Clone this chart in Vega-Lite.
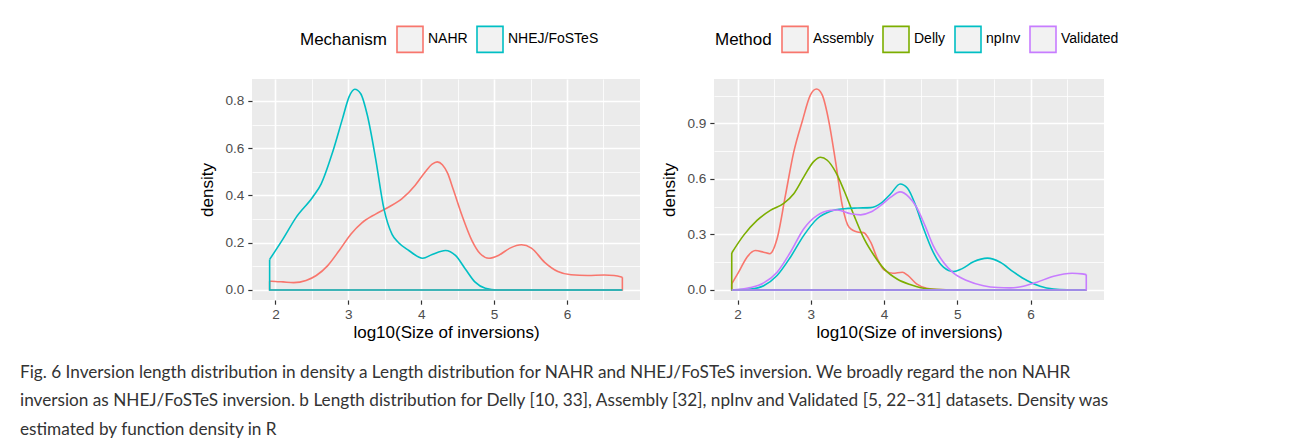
{
  "$schema": "https://vega.github.io/schema/vega-lite/v6.json",
  "padding": {"left": 20, "top": 25, "right": 5, "bottom": 5},
  "background": "white",
  "title": {
    "text": [
      "Fig. 6 Inversion length distribution in density a Length distribution for NAHR and NHEJ/FoSTeS inversion. We broadly regard the non NAHR",
      "inversion as NHEJ/FoSTeS inversion. b Length distribution for Delly [10, 33], Assembly [32], npInv and Validated [5, 22–31] datasets. Density was",
      "estimated by function density in R"
    ],
    "orient": "bottom", "anchor": "start", "frame": "group",
    "font": "Lato", "fontSize": 17.2, "fontWeight": "normal",
    "color": "#333333", "lineHeight": 28.5, "offset": 23, "dx": -232, "baseline": "top"
  },
  "datasets": {
    "a": [
      {"g": "NAHR", "p": "c", "i": 1, "x": 1.92, "y": 0.037},
      {"g": "NAHR", "p": "c", "i": 2, "x": 2.0, "y": 0.036},
      {"g": "NAHR", "p": "c", "i": 3, "x": 2.104, "y": 0.034},
      {"g": "NAHR", "p": "c", "i": 4, "x": 2.25, "y": 0.031},
      {"g": "NAHR", "p": "c", "i": 5, "x": 2.42, "y": 0.04},
      {"g": "NAHR", "p": "c", "i": 6, "x": 2.56, "y": 0.061},
      {"g": "NAHR", "p": "c", "i": 7, "x": 2.717, "y": 0.103},
      {"g": "NAHR", "p": "c", "i": 8, "x": 2.875, "y": 0.167},
      {"g": "NAHR", "p": "c", "i": 9, "x": 3.034, "y": 0.236},
      {"g": "NAHR", "p": "c", "i": 10, "x": 3.19, "y": 0.285},
      {"g": "NAHR", "p": "c", "i": 11, "x": 3.374, "y": 0.321},
      {"g": "NAHR", "p": "c", "i": 12, "x": 3.556, "y": 0.351},
      {"g": "NAHR", "p": "c", "i": 13, "x": 3.737, "y": 0.386},
      {"g": "NAHR", "p": "c", "i": 14, "x": 3.918, "y": 0.443},
      {"g": "NAHR", "p": "c", "i": 15, "x": 4.054, "y": 0.499},
      {"g": "NAHR", "p": "c", "i": 16, "x": 4.15, "y": 0.532},
      {"g": "NAHR", "p": "c", "i": 17, "x": 4.22, "y": 0.542},
      {"g": "NAHR", "p": "c", "i": 18, "x": 4.29, "y": 0.53},
      {"g": "NAHR", "p": "c", "i": 19, "x": 4.36, "y": 0.495},
      {"g": "NAHR", "p": "c", "i": 20, "x": 4.44, "y": 0.425},
      {"g": "NAHR", "p": "c", "i": 21, "x": 4.56, "y": 0.315},
      {"g": "NAHR", "p": "c", "i": 22, "x": 4.696, "y": 0.209},
      {"g": "NAHR", "p": "c", "i": 23, "x": 4.81, "y": 0.153},
      {"g": "NAHR", "p": "c", "i": 24, "x": 4.93, "y": 0.134},
      {"g": "NAHR", "p": "c", "i": 25, "x": 5.059, "y": 0.146},
      {"g": "NAHR", "p": "c", "i": 26, "x": 5.218, "y": 0.177},
      {"g": "NAHR", "p": "c", "i": 27, "x": 5.376, "y": 0.191},
      {"g": "NAHR", "p": "c", "i": 28, "x": 5.512, "y": 0.177},
      {"g": "NAHR", "p": "c", "i": 29, "x": 5.694, "y": 0.117},
      {"g": "NAHR", "p": "c", "i": 30, "x": 5.875, "y": 0.078},
      {"g": "NAHR", "p": "c", "i": 31, "x": 6.056, "y": 0.064},
      {"g": "NAHR", "p": "c", "i": 32, "x": 6.283, "y": 0.061},
      {"g": "NAHR", "p": "c", "i": 33, "x": 6.51, "y": 0.063},
      {"g": "NAHR", "p": "c", "i": 34, "x": 6.646, "y": 0.061},
      {"g": "NAHR", "p": "c", "i": 35, "x": 6.76, "y": 0.054},
      {"g": "NAHR", "p": "e", "i": 1, "x": 1.92, "y": 0.037},
      {"g": "NAHR", "p": "e", "i": 2, "x": 1.92, "y": 0},
      {"g": "NAHR", "p": "e", "i": 3, "x": 6.76, "y": 0},
      {"g": "NAHR", "p": "e", "i": 4, "x": 6.76, "y": 0.054},
      {"g": "NHEJ/FoSTeS", "p": "c", "i": 1, "x": 1.92, "y": 0.129},
      {"g": "NHEJ/FoSTeS", "p": "c", "i": 2, "x": 2.104, "y": 0.216},
      {"g": "NHEJ/FoSTeS", "p": "c", "i": 3, "x": 2.286, "y": 0.308},
      {"g": "NHEJ/FoSTeS", "p": "c", "i": 4, "x": 2.512, "y": 0.393},
      {"g": "NHEJ/FoSTeS", "p": "c", "i": 5, "x": 2.626, "y": 0.448},
      {"g": "NHEJ/FoSTeS", "p": "c", "i": 6, "x": 2.785, "y": 0.584},
      {"g": "NHEJ/FoSTeS", "p": "c", "i": 7, "x": 2.921, "y": 0.726},
      {"g": "NHEJ/FoSTeS", "p": "c", "i": 8, "x": 3.011, "y": 0.818},
      {"g": "NHEJ/FoSTeS", "p": "c", "i": 9, "x": 3.088, "y": 0.849},
      {"g": "NHEJ/FoSTeS", "p": "c", "i": 10, "x": 3.17, "y": 0.83},
      {"g": "NHEJ/FoSTeS", "p": "c", "i": 11, "x": 3.26, "y": 0.74},
      {"g": "NHEJ/FoSTeS", "p": "c", "i": 12, "x": 3.374, "y": 0.556},
      {"g": "NHEJ/FoSTeS", "p": "c", "i": 13, "x": 3.488, "y": 0.344},
      {"g": "NHEJ/FoSTeS", "p": "c", "i": 14, "x": 3.6, "y": 0.235},
      {"g": "NHEJ/FoSTeS", "p": "c", "i": 15, "x": 3.69, "y": 0.2},
      {"g": "NHEJ/FoSTeS", "p": "c", "i": 16, "x": 3.83, "y": 0.167},
      {"g": "NHEJ/FoSTeS", "p": "c", "i": 17, "x": 4.02, "y": 0.134},
      {"g": "NHEJ/FoSTeS", "p": "c", "i": 18, "x": 4.15, "y": 0.15},
      {"g": "NHEJ/FoSTeS", "p": "c", "i": 19, "x": 4.333, "y": 0.167},
      {"g": "NHEJ/FoSTeS", "p": "c", "i": 20, "x": 4.47, "y": 0.146},
      {"g": "NHEJ/FoSTeS", "p": "c", "i": 21, "x": 4.605, "y": 0.089},
      {"g": "NHEJ/FoSTeS", "p": "c", "i": 22, "x": 4.74, "y": 0.033},
      {"g": "NHEJ/FoSTeS", "p": "c", "i": 23, "x": 4.88, "y": 0.007},
      {"g": "NHEJ/FoSTeS", "p": "c", "i": 24, "x": 5.05, "y": 0.0},
      {"g": "NHEJ/FoSTeS", "p": "c", "i": 25, "x": 6.76, "y": 0.0},
      {"g": "NHEJ/FoSTeS", "p": "e", "i": 1, "x": 1.92, "y": 0.129},
      {"g": "NHEJ/FoSTeS", "p": "e", "i": 2, "x": 1.92, "y": 0},
      {"g": "NHEJ/FoSTeS", "p": "e", "i": 3, "x": 6.76, "y": 0}
    ],
    "b": [
      {"g": "Assembly", "p": "c", "i": 1, "x": 1.92, "y": 0.033},
      {"g": "Assembly", "p": "c", "i": 2, "x": 2.014, "y": 0.096},
      {"g": "Assembly", "p": "c", "i": 3, "x": 2.128, "y": 0.177},
      {"g": "Assembly", "p": "c", "i": 4, "x": 2.242, "y": 0.213},
      {"g": "Assembly", "p": "c", "i": 5, "x": 2.356, "y": 0.204},
      {"g": "Assembly", "p": "c", "i": 6, "x": 2.44, "y": 0.196},
      {"g": "Assembly", "p": "c", "i": 7, "x": 2.539, "y": 0.277},
      {"g": "Assembly", "p": "c", "i": 8, "x": 2.653, "y": 0.511},
      {"g": "Assembly", "p": "c", "i": 9, "x": 2.767, "y": 0.746},
      {"g": "Assembly", "p": "c", "i": 10, "x": 2.881, "y": 0.909},
      {"g": "Assembly", "p": "c", "i": 11, "x": 2.995, "y": 1.054},
      {"g": "Assembly", "p": "c", "i": 12, "x": 3.078, "y": 1.086},
      {"g": "Assembly", "p": "c", "i": 13, "x": 3.155, "y": 1.054},
      {"g": "Assembly", "p": "c", "i": 14, "x": 3.247, "y": 0.909},
      {"g": "Assembly", "p": "c", "i": 15, "x": 3.338, "y": 0.692},
      {"g": "Assembly", "p": "c", "i": 16, "x": 3.429, "y": 0.457},
      {"g": "Assembly", "p": "c", "i": 17, "x": 3.52, "y": 0.34},
      {"g": "Assembly", "p": "c", "i": 18, "x": 3.635, "y": 0.313},
      {"g": "Assembly", "p": "c", "i": 19, "x": 3.72, "y": 0.31},
      {"g": "Assembly", "p": "c", "i": 20, "x": 3.817, "y": 0.258},
      {"g": "Assembly", "p": "c", "i": 21, "x": 3.909, "y": 0.168},
      {"g": "Assembly", "p": "c", "i": 22, "x": 4.0, "y": 0.108},
      {"g": "Assembly", "p": "c", "i": 23, "x": 4.12, "y": 0.09},
      {"g": "Assembly", "p": "c", "i": 24, "x": 4.25, "y": 0.096},
      {"g": "Assembly", "p": "c", "i": 25, "x": 4.32, "y": 0.08},
      {"g": "Assembly", "p": "c", "i": 26, "x": 4.443, "y": 0.033},
      {"g": "Assembly", "p": "c", "i": 27, "x": 4.58, "y": 0.009},
      {"g": "Assembly", "p": "c", "i": 28, "x": 4.717, "y": 0.002},
      {"g": "Assembly", "p": "c", "i": 29, "x": 5.0, "y": 0},
      {"g": "Assembly", "p": "c", "i": 30, "x": 6.76, "y": 0},
      {"g": "Assembly", "p": "e", "i": 1, "x": 1.92, "y": 0.033},
      {"g": "Assembly", "p": "e", "i": 2, "x": 1.92, "y": 0},
      {"g": "Assembly", "p": "e", "i": 3, "x": 6.76, "y": 0},
      {"g": "Delly", "p": "c", "i": 1, "x": 1.92, "y": 0.2},
      {"g": "Delly", "p": "c", "i": 2, "x": 2.082, "y": 0.295},
      {"g": "Delly", "p": "c", "i": 3, "x": 2.265, "y": 0.376},
      {"g": "Delly", "p": "c", "i": 4, "x": 2.447, "y": 0.43},
      {"g": "Delly", "p": "c", "i": 5, "x": 2.63, "y": 0.468},
      {"g": "Delly", "p": "c", "i": 6, "x": 2.767, "y": 0.52},
      {"g": "Delly", "p": "c", "i": 7, "x": 2.904, "y": 0.611},
      {"g": "Delly", "p": "c", "i": 8, "x": 3.041, "y": 0.695},
      {"g": "Delly", "p": "c", "i": 9, "x": 3.132, "y": 0.717},
      {"g": "Delly", "p": "c", "i": 10, "x": 3.224, "y": 0.701},
      {"g": "Delly", "p": "c", "i": 11, "x": 3.338, "y": 0.638},
      {"g": "Delly", "p": "c", "i": 12, "x": 3.452, "y": 0.539},
      {"g": "Delly", "p": "c", "i": 13, "x": 3.589, "y": 0.403},
      {"g": "Delly", "p": "c", "i": 14, "x": 3.726, "y": 0.277},
      {"g": "Delly", "p": "c", "i": 15, "x": 3.863, "y": 0.186},
      {"g": "Delly", "p": "c", "i": 16, "x": 4.0, "y": 0.114},
      {"g": "Delly", "p": "c", "i": 17, "x": 4.183, "y": 0.058},
      {"g": "Delly", "p": "c", "i": 18, "x": 4.365, "y": 0.028},
      {"g": "Delly", "p": "c", "i": 19, "x": 4.5, "y": 0.012},
      {"g": "Delly", "p": "c", "i": 20, "x": 4.67, "y": 0.003},
      {"g": "Delly", "p": "c", "i": 21, "x": 5.0, "y": 0},
      {"g": "Delly", "p": "c", "i": 22, "x": 6.76, "y": 0},
      {"g": "Delly", "p": "e", "i": 1, "x": 1.92, "y": 0.2},
      {"g": "Delly", "p": "e", "i": 2, "x": 1.92, "y": 0},
      {"g": "Delly", "p": "e", "i": 3, "x": 6.76, "y": 0},
      {"g": "npInv", "p": "c", "i": 1, "x": 1.92, "y": 0.0},
      {"g": "npInv", "p": "c", "i": 2, "x": 2.174, "y": 0.005},
      {"g": "npInv", "p": "c", "i": 3, "x": 2.356, "y": 0.023},
      {"g": "npInv", "p": "c", "i": 4, "x": 2.539, "y": 0.078},
      {"g": "npInv", "p": "c", "i": 5, "x": 2.721, "y": 0.177},
      {"g": "npInv", "p": "c", "i": 6, "x": 2.904, "y": 0.295},
      {"g": "npInv", "p": "c", "i": 7, "x": 3.087, "y": 0.385},
      {"g": "npInv", "p": "c", "i": 8, "x": 3.269, "y": 0.425},
      {"g": "npInv", "p": "c", "i": 9, "x": 3.452, "y": 0.439},
      {"g": "npInv", "p": "c", "i": 10, "x": 3.635, "y": 0.443},
      {"g": "npInv", "p": "c", "i": 11, "x": 3.817, "y": 0.445},
      {"g": "npInv", "p": "c", "i": 12, "x": 3.954, "y": 0.468},
      {"g": "npInv", "p": "c", "i": 13, "x": 4.091, "y": 0.52},
      {"g": "npInv", "p": "c", "i": 14, "x": 4.219, "y": 0.573},
      {"g": "npInv", "p": "c", "i": 15, "x": 4.32, "y": 0.55},
      {"g": "npInv", "p": "c", "i": 16, "x": 4.43, "y": 0.457},
      {"g": "npInv", "p": "c", "i": 17, "x": 4.54, "y": 0.331},
      {"g": "npInv", "p": "c", "i": 18, "x": 4.67, "y": 0.204},
      {"g": "npInv", "p": "c", "i": 19, "x": 4.81, "y": 0.123},
      {"g": "npInv", "p": "c", "i": 20, "x": 4.95, "y": 0.099},
      {"g": "npInv", "p": "c", "i": 21, "x": 5.06, "y": 0.114},
      {"g": "npInv", "p": "c", "i": 22, "x": 5.22, "y": 0.152},
      {"g": "npInv", "p": "c", "i": 23, "x": 5.41, "y": 0.172},
      {"g": "npInv", "p": "c", "i": 24, "x": 5.585, "y": 0.15},
      {"g": "npInv", "p": "c", "i": 25, "x": 5.77, "y": 0.096},
      {"g": "npInv", "p": "c", "i": 26, "x": 5.95, "y": 0.051},
      {"g": "npInv", "p": "c", "i": 27, "x": 6.13, "y": 0.02},
      {"g": "npInv", "p": "c", "i": 28, "x": 6.315, "y": 0.005},
      {"g": "npInv", "p": "c", "i": 29, "x": 6.5, "y": 0.001},
      {"g": "npInv", "p": "c", "i": 30, "x": 6.76, "y": 0},
      {"g": "npInv", "p": "e", "i": 1, "x": 1.92, "y": 0},
      {"g": "npInv", "p": "e", "i": 2, "x": 6.76, "y": 0},
      {"g": "Validated", "p": "c", "i": 1, "x": 1.92, "y": 0.0},
      {"g": "Validated", "p": "c", "i": 2, "x": 2.174, "y": 0.013},
      {"g": "Validated", "p": "c", "i": 3, "x": 2.356, "y": 0.038},
      {"g": "Validated", "p": "c", "i": 4, "x": 2.539, "y": 0.096},
      {"g": "Validated", "p": "c", "i": 5, "x": 2.721, "y": 0.204},
      {"g": "Validated", "p": "c", "i": 6, "x": 2.904, "y": 0.331},
      {"g": "Validated", "p": "c", "i": 7, "x": 3.087, "y": 0.403},
      {"g": "Validated", "p": "c", "i": 8, "x": 3.269, "y": 0.43},
      {"g": "Validated", "p": "c", "i": 9, "x": 3.36, "y": 0.432},
      {"g": "Validated", "p": "c", "i": 10, "x": 3.543, "y": 0.412},
      {"g": "Validated", "p": "c", "i": 11, "x": 3.68, "y": 0.406},
      {"g": "Validated", "p": "c", "i": 12, "x": 3.817, "y": 0.421},
      {"g": "Validated", "p": "c", "i": 13, "x": 3.954, "y": 0.457},
      {"g": "Validated", "p": "c", "i": 14, "x": 4.091, "y": 0.502},
      {"g": "Validated", "p": "c", "i": 15, "x": 4.219, "y": 0.53},
      {"g": "Validated", "p": "c", "i": 16, "x": 4.34, "y": 0.502},
      {"g": "Validated", "p": "c", "i": 17, "x": 4.443, "y": 0.448},
      {"g": "Validated", "p": "c", "i": 18, "x": 4.557, "y": 0.349},
      {"g": "Validated", "p": "c", "i": 19, "x": 4.67, "y": 0.24},
      {"g": "Validated", "p": "c", "i": 20, "x": 4.81, "y": 0.15},
      {"g": "Validated", "p": "c", "i": 21, "x": 4.945, "y": 0.092},
      {"g": "Validated", "p": "c", "i": 22, "x": 5.128, "y": 0.051},
      {"g": "Validated", "p": "c", "i": 23, "x": 5.356, "y": 0.023},
      {"g": "Validated", "p": "c", "i": 24, "x": 5.55, "y": 0.013},
      {"g": "Validated", "p": "c", "i": 25, "x": 5.72, "y": 0.011},
      {"g": "Validated", "p": "c", "i": 26, "x": 5.9, "y": 0.02},
      {"g": "Validated", "p": "c", "i": 27, "x": 6.087, "y": 0.042},
      {"g": "Validated", "p": "c", "i": 28, "x": 6.315, "y": 0.074},
      {"g": "Validated", "p": "c", "i": 29, "x": 6.566, "y": 0.09},
      {"g": "Validated", "p": "c", "i": 30, "x": 6.703, "y": 0.087},
      {"g": "Validated", "p": "c", "i": 31, "x": 6.76, "y": 0.083},
      {"g": "Validated", "p": "e", "i": 1, "x": 1.92, "y": 0},
      {"g": "Validated", "p": "e", "i": 2, "x": 6.76, "y": 0},
      {"g": "Validated", "p": "e", "i": 3, "x": 6.76, "y": 0.083}
    ]
  },
  "hconcat": [
    {
      "width": 388, "height": 221,
      "data": {"name": "a"},
      "encoding": {
        "x": {"field": "x", "type": "quantitative", "title": "log10(Size of inversions)",
          "scale": {"domain": [1.678, 7.002], "nice": false, "zero": false},
          "axis": {"values": [2, 2.5, 3, 3.5, 4, 4.5, 5, 5.5, 6, 6.5], "format": "~g",
            "labelExpr": "datum.value % 1 === 0 ? datum.label : ''",
            "gridWidth": {"condition": {"test": "datum.value % 1 === 0", "value": 1.6}, "value": 0.8},
            "tickOpacity": {"condition": {"test": "datum.value % 1 === 0", "value": 1}, "value": 0}}},
        "y": {"field": "y", "type": "quantitative", "title": "density",
          "scale": {"domain": [-0.0425, 0.8925], "nice": false, "zero": false},
          "axis": {"values": [0, 0.1, 0.2, 0.3, 0.4, 0.5, 0.6, 0.7, 0.8], "format": ".1f",
            "labelExpr": "abs(datum.value*5 - round(datum.value*5)) < 0.001 ? datum.label : ''",
            "gridWidth": {"condition": {"test": "abs(datum.value*5 - round(datum.value*5)) < 0.001", "value": 1.6}, "value": 0.8},
            "tickOpacity": {"condition": {"test": "abs(datum.value*5 - round(datum.value*5)) < 0.001", "value": 1}, "value": 0}}},
        "color": {"field": "g", "type": "nominal",
          "scale": {"domain": ["NAHR", "NHEJ/FoSTeS"], "range": ["#F8766D", "#00BFC4"]},
          "legend": {"title": "Mechanism", "orient": "none", "legendX": 48, "legendY": -54, "direction": "horizontal", "columns": 2}},
        "order": {"field": "i", "type": "quantitative"}
      },
      "layer": [
        {"transform": [{"filter": "datum.p === 'c'"}],
         "mark": {"type": "line", "strokeWidth": 1.6, "interpolate": "monotone", "strokeJoin": "round"}},
        {"transform": [{"filter": "datum.p === 'e'"}],
         "mark": {"type": "line", "strokeWidth": 1.6, "interpolate": "linear", "strokeJoin": "miter"}}
      ]
    },
    {
      "width": 390, "height": 221,
      "data": {"name": "b"},
      "encoding": {
        "x": {"field": "x", "type": "quantitative", "title": "log10(Size of inversions)",
          "scale": {"domain": [1.678, 7.002], "nice": false, "zero": false},
          "axis": {"values": [2, 2.5, 3, 3.5, 4, 4.5, 5, 5.5, 6, 6.5], "format": "~g",
            "labelExpr": "datum.value % 1 === 0 ? datum.label : ''",
            "gridWidth": {"condition": {"test": "datum.value % 1 === 0", "value": 1.6}, "value": 0.8},
            "tickOpacity": {"condition": {"test": "datum.value % 1 === 0", "value": 1}, "value": 0}}},
        "y": {"field": "y", "type": "quantitative", "title": "density",
          "scale": {"domain": [-0.0543, 1.1403], "nice": false, "zero": false},
          "axis": {"values": [0, 0.15, 0.3, 0.45, 0.6, 0.75, 0.9, 1.05], "format": ".1f",
            "labelExpr": "abs(datum.value/0.3 - round(datum.value/0.3)) < 0.001 ? datum.label : ''",
            "gridWidth": {"condition": {"test": "abs(datum.value/0.3 - round(datum.value/0.3)) < 0.001", "value": 1.6}, "value": 0.8},
            "tickOpacity": {"condition": {"test": "abs(datum.value/0.3 - round(datum.value/0.3)) < 0.001", "value": 1}, "value": 0}}},
        "color": {"field": "g", "type": "nominal",
          "scale": {"domain": ["Assembly", "Delly", "npInv", "Validated"], "range": ["#F8766D", "#7CAE00", "#00BFC4", "#C77CFF"]},
          "legend": {"title": "Method", "orient": "none", "legendX": 1, "legendY": -54, "direction": "horizontal", "columns": 4}},
        "order": {"field": "i", "type": "quantitative"}
      },
      "layer": [
        {"transform": [{"filter": "datum.p === 'c'"}],
         "mark": {"type": "line", "strokeWidth": 1.6, "interpolate": "monotone", "strokeJoin": "round"}},
        {"transform": [{"filter": "datum.p === 'e'"}],
         "mark": {"type": "line", "strokeWidth": 1.6, "interpolate": "linear", "strokeJoin": "miter"}}
      ]
    }
  ],
  "spacing": 20,
  "resolve": {"scale": {"color": "independent"}, "legend": {"color": "independent"}},
  "config": {
    "view": {"fill": "#EBEBEB", "stroke": null},
    "axis": {
      "domain": false, "grid": true, "gridColor": "#FFFFFF",
      "ticks": true, "tickColor": "#333333", "tickSize": 4.2, "tickWidth": 1.2,
      "labelFont": "Liberation Sans", "labelFontSize": 13.6, "labelColor": "#4D4D4D",
      "titleFont": "Liberation Sans", "titleFontSize": 17, "titleFontWeight": "normal", "titleColor": "#000000"
    },
    "axisX": {"labelPadding": 3, "titlePadding": 4, "labelFlush": false},
    "axisY": {"labelPadding": 4, "titlePadding": 8},
    "legend": {
      "titleOrient": "left", "titleFont": "Liberation Sans", "titleFontSize": 17, "titleFontWeight": "normal",
      "titleColor": "#000000", "titlePadding": 9, "titleBaseline": "middle",
      "labelFont": "Liberation Sans", "labelFontSize": 14, "labelColor": "#000000",
      "symbolType": "square", "symbolSize": 676, "symbolFillColor": "#F2F2F2", "symbolStrokeWidth": 1.6,
      "labelOffset": 4, "columnPadding": 5
    }
  }
}
